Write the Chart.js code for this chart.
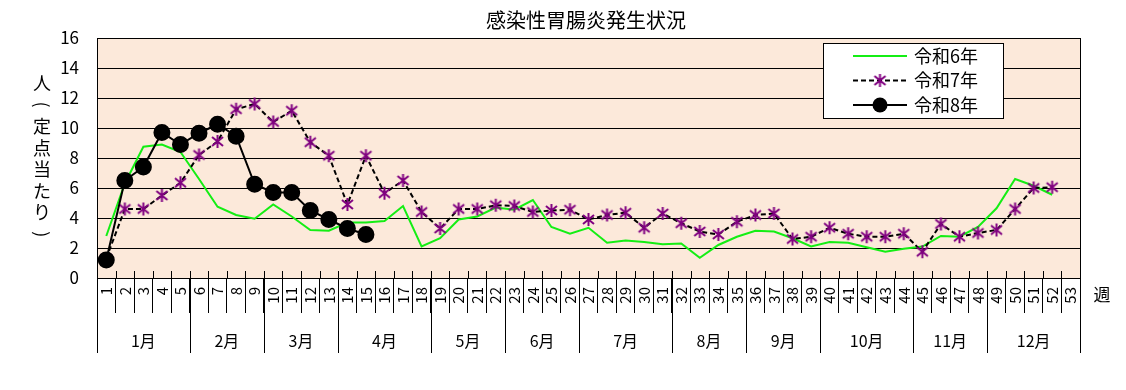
<!DOCTYPE html>
<html lang="ja">
<head>
  <meta charset="UTF-8">
  <title>感染性胃腸炎発生状況</title>
  <script src="https://cdn.jsdelivr.net/npm/chart.js"></script>
  <style>
    body { margin: 0; background: #fff; }
    #chartContainer { width: 1126px; height: 390px; }
  </style>
</head>
<body>
  <div id="chartContainer">
    <canvas id="myChart" width="1126" height="390"></canvas>
  </div>

  <script>
    // 週ラベル
    const weeks = ['1','2','3','4','5','6','7','8','9','10','11','12','13','14','15','16','17','18','19','20',
      '21','22','23','24','25','26','27','28','29','30','31','32','33','34','35','36','37','38','39','40',
      '41','42','43','44','45','46','47','48','49','50','51','52','53'];

    // 月ラベルと各月の最初の週（1始まり）
    const months = ['1月','2月','3月','4月','5月','6月','7月','8月','9月','10月','11月','12月'];
    const monthStartWeek = [1, 6, 10, 14, 19, 23, 27, 32, 36, 40, 45, 49];

    const seriesNames = ['令和6年', '令和7年', '令和8年'];

    // 定点当たり患者数
    const r6 = [2.8, 6.3, 8.75, 8.9, 8.4, 6.6, 4.75, 4.2, 3.95, 4.9, 4.1, 3.2, 3.15, 3.7, 3.7, 3.8, 4.8, 2.1, 2.65, 3.9,
      4.1, 4.7, 4.55, 5.2, 3.4, 2.95, 3.35, 2.35, 2.5, 2.4, 2.25, 2.3, 1.35, 2.2, 2.75, 3.15, 3.1, 2.65, 2.1, 2.4,
      2.35, 2.05, 1.75, 1.95, 2.1, 2.8, 2.75, 3.4, 4.65, 6.6, 6.15, 5.55];
    const r7 = [1.3, 4.6, 4.6, 5.5, 6.35, 8.2, 9.1, 11.25, 11.6, 10.4, 11.15, 9.05, 8.15, 4.9, 8.15, 5.65, 6.5, 4.4, 3.3, 4.6,
      4.6, 4.85, 4.8, 4.4, 4.5, 4.55, 3.9, 4.2, 4.35, 3.35, 4.3, 3.65, 3.1, 2.9, 3.75, 4.2, 4.3, 2.6, 2.75, 3.35,
      2.95, 2.75, 2.75, 2.95, 1.75, 3.6, 2.75, 3.0, 3.2, 4.6, 6.0, 6.05];
    const r8 = [1.2, 6.5, 7.4, 9.7, 8.9, 9.65, 10.25, 9.45, 6.25, 5.7, 5.7, 4.5, 3.9, 3.3, 2.9];

    const FONT = "'Noto Sans CJK JP', 'Noto Sans', sans-serif";
    const plotBg = 'rgb(252,233,218)';
    const green = '#14ee14';
    const purple = '#800080';

    // 米印マーカー（Xと縦線）
    function makeAsterisk() {
      const c = document.createElement('canvas');
      c.width = 15; c.height = 15;
      const g = c.getContext('2d');
      g.strokeStyle = purple;
      g.lineWidth = 2;
      g.beginPath();
      g.moveTo(7.5, 1); g.lineTo(7.5, 14);
      g.moveTo(2, 3); g.lineTo(13, 12);
      g.moveTo(13, 3); g.lineTo(2, 12);
      g.stroke();
      return c;
    }
    const asterisk = makeAsterisk();

    const decorPlugin = {
      id: 'decor',
      beforeDraw(chart) {
        const { ctx, chartArea: a } = chart;
        ctx.save();
        ctx.fillStyle = plotBg;
        ctx.fillRect(a.left, a.top, a.right - a.left, a.bottom - a.top);
        ctx.restore();
      },
      afterDraw(chart) {
        const { ctx, chartArea: a } = chart;
        const x = chart.scales.x;
        const half = (x.getPixelForValue(1) - x.getPixelForValue(0)) / 2;
        ctx.save();
        ctx.strokeStyle = '#000';
        ctx.lineWidth = 1;
        // 枠
        ctx.strokeRect(Math.round(a.left) + 0.5, Math.round(a.top) + 0.5,
          Math.round(a.right - a.left), Math.round(a.bottom - a.top));
        // 週の区切り（内側の短い目盛り）
        ctx.beginPath();
        for (let i = 0; i <= weeks.length; i++) {
          const px = Math.round(x.getPixelForValue(i) - half) + 0.5;
          ctx.moveTo(px, a.bottom - 7);
          ctx.lineTo(px, a.bottom);
        }
        // 月の区切り
        const bounds = monthStartWeek.concat([weeks.length + 1]);
        bounds.forEach(w => {
          const px = Math.round(x.getPixelForValue(w - 1) - half) + 0.5;
          ctx.moveTo(px, a.bottom);
          ctx.lineTo(px, a.bottom + 75);
        });
        ctx.stroke();

        // 月ラベル
        ctx.fillStyle = '#000';
        ctx.font = '16px ' + FONT;
        ctx.textAlign = 'center';
        ctx.textBaseline = 'middle';
        months.forEach((m, i) => {
          const s = monthStartWeek[i] - 1;
          const e = (i + 1 < monthStartWeek.length ? monthStartWeek[i + 1] - 1 : weeks.length) - 1;
          const cx = (x.getPixelForValue(s) + x.getPixelForValue(e)) / 2;
          ctx.fillText(m, cx, a.bottom + 63);
        });

        // 週
        ctx.font = '17px ' + FONT;
        ctx.fillText('週', 1102, 295);

        // タイトル
        ctx.font = '20px ' + FONT;
        ctx.fillText('感染性胃腸炎発生状況', 586, 20);

        // 縦書きの軸タイトル
        ctx.font = '18px ' + FONT;
        const yTitle = '人(定点当たり)';
        [...yTitle].forEach((ch, i) => {
          const cy = 83 + i * 21.6;
          if (ch === '(' || ch === ')') {
            ctx.save();
            ctx.translate(42, cy);
            ctx.rotate(Math.PI / 2);
            ctx.fillText(ch, 0, 0);
            ctx.restore();
          } else {
            ctx.fillText(ch, 42, cy);
          }
        });

        // 凡例
        const lx = 823, ly = 43, lw = 180, lh = 75;
        ctx.fillStyle = '#fff';
        ctx.fillRect(lx, ly, lw, lh);
        ctx.strokeRect(lx + 0.5, ly + 0.5, lw, lh);
        const rows = [56, 80.5, 105];
        ctx.textAlign = 'left';
        rows.forEach((ry, i) => {
          const ds = chart.data.datasets[i];
          ctx.save();
          ctx.strokeStyle = ds.borderColor;
          ctx.lineWidth = ds.borderWidth;
          ctx.setLineDash(ds.borderDash || []);
          ctx.beginPath();
          ctx.moveTo(853, ry);
          ctx.lineTo(907, ry);
          ctx.stroke();
          ctx.restore();
          if (i === 1) {
            ctx.drawImage(asterisk, 880 - asterisk.width / 2, ry - asterisk.height / 2);
          } else if (i === 2) {
            ctx.beginPath();
            ctx.arc(880, ry, 7.5, 0, Math.PI * 2);
            ctx.fill();
          }
          ctx.fillStyle = '#000';
          ctx.font = '18px ' + FONT;
          ctx.fillText(seriesNames[i], 914, ry);
        });
        ctx.restore();
      }
    };

    const ctx = document.getElementById('myChart').getContext('2d');
    const myChart = new Chart(ctx, {
      type: 'line',
      data: {
        labels: weeks,
        datasets: [
          {
            label: seriesNames[0],
            data: r6,
            borderColor: green,
            borderWidth: 2,
            pointRadius: 0,
            fill: false,
            tension: 0,
            order: 2
          },
          {
            label: seriesNames[1],
            data: r7,
            borderColor: '#000',
            borderWidth: 2,
            borderDash: [5, 3],
            pointStyle: asterisk,
            pointRadius: 7,
            fill: false,
            tension: 0,
            order: 1
          },
          {
            label: seriesNames[2],
            data: r8,
            borderColor: '#000',
            backgroundColor: '#000',
            borderWidth: 2,
            pointStyle: 'circle',
            pointRadius: 7.5,
            pointBackgroundColor: '#000',
            fill: false,
            tension: 0,
            order: 0
          }
        ]
      },
      options: {
        responsive: false,
        animation: false,
        devicePixelRatio: 1,
        layout: { padding: { top: 38, right: 46, left: 0, bottom: 0 } },
        plugins: {
          legend: { display: false },
          title: { display: false },
          tooltip: { enabled: false }
        },
        scales: {
          x: {
            offset: true,
            grid: {
              offset: true,
              drawOnChartArea: false,
              color: '#000',
              tickLength: 35,
              tickColor: '#000'
            },
            border: { color: '#000' },
            ticks: {
              autoSkip: false,
              minRotation: 90,
              maxRotation: 90,
              padding: -26,
              color: '#000',
              font: { family: FONT, size: 15 }
            },
            afterFit(scale) { scale.height = 112; }
          },
          y: {
            min: 0,
            max: 16,
            ticks: {
              stepSize: 2,
              padding: 18,
              color: '#000',
              font: { family: FONT, size: 17 }
            },
            grid: { color: '#000', drawTicks: false },
            border: { color: '#000' },
            afterFit(scale) { scale.width = 97; }
          }
        }
      },
      plugins: [decorPlugin]
    });
  </script>
</body>
</html>
